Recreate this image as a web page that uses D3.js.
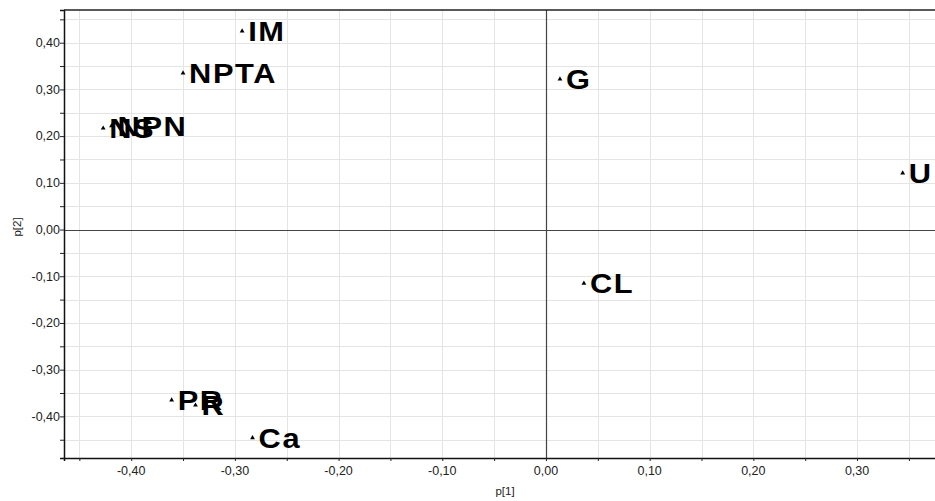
<!DOCTYPE html>
<html>
<head>
<meta charset="utf-8">
<script src="https://cdn.jsdelivr.net/npm/d3@7"></script>
<style>
  html, body { margin: 0; padding: 0; background: #fff; }
  svg { display: block; }
</style>
</head>
<body>
<svg id="chart" width="935" height="501"></svg>
<script>
// Loading plot: p[1] vs p[2]
const labels = ["IM", "NPTA", "NS", "NPN", "G", "U", "CL", "PR", "R", "Ca"];
const p1 = [-0.293, -0.350, -0.427, -0.419, 0.0135, 0.344, 0.0366, -0.361, -0.338, -0.283];
const p2 = [0.425, 0.335, 0.217, 0.222, 0.322, 0.121, -0.115, -0.365, -0.376, -0.446];

const xTickValues = [-0.40, -0.30, -0.20, -0.10, 0.00, 0.10, 0.20, 0.30];
const yTickValues = [-0.40, -0.30, -0.20, -0.10, 0.00, 0.10, 0.20, 0.30, 0.40];
const xTitle = "p[1]";
const yTitle = "p[2]";

const svg = d3.select("#chart");
const plotLeft = 64, plotTop = 10, plotRight = 937, plotBottom = 458;

const x = d3.scaleLinear().domain([-0.4648, 0.3771]).range([plotLeft, plotRight]);
const y = d3.scaleLinear().domain([-0.4891, 0.4700]).range([plotBottom, plotTop]);

const fmt = v => d3.format(".2f")(v).replace("−", "-").replace(".", ",");

// grid every 0.05
const xGrid = d3.range(-0.45, 0.3801, 0.05);
const yGrid = d3.range(-0.45, 0.4601, 0.05);
const grid = svg.append("g");
grid.selectAll("line.vx").data(xGrid).join("line")
  .attr("x1", d => Math.round(x(d)) + 0.5).attr("x2", d => Math.round(x(d)) + 0.5)
  .attr("y1", plotTop).attr("y2", plotBottom)
  .attr("stroke", "#e4e4e4").attr("stroke-width", 1);
grid.selectAll("line.hy").data(yGrid).join("line")
  .attr("y1", d => Math.round(y(d)) + 0.5).attr("y2", d => Math.round(y(d)) + 0.5)
  .attr("x1", plotLeft).attr("x2", plotRight)
  .attr("stroke", "#e4e4e4").attr("stroke-width", 1);

// zero lines
svg.append("line")
  .attr("x1", Math.round(x(0)) + 0.5).attr("x2", Math.round(x(0)) + 0.5)
  .attr("y1", plotTop).attr("y2", plotBottom)
  .attr("stroke", "#444").attr("stroke-width", 1.2);
svg.append("line")
  .attr("y1", Math.round(y(0)) + 0.5).attr("y2", Math.round(y(0)) + 0.5)
  .attr("x1", plotLeft).attr("x2", plotRight)
  .attr("stroke", "#444").attr("stroke-width", 1.2);

// axes
const xAxis = d3.axisBottom(x).tickValues(xGrid).tickSize(3).tickFormat("");
const yAxis = d3.axisLeft(y).tickValues(yGrid).tickSize(4).tickFormat("");
const gx = svg.append("g").attr("transform", `translate(0,${plotBottom})`).call(xAxis);
const gy = svg.append("g").attr("transform", `translate(${plotLeft},0)`).call(yAxis);
[gx, gy].forEach(g => {
  g.select(".domain").attr("stroke", "#111").attr("stroke-width", 1.5);
  g.selectAll(".tick line").attr("stroke", "#222");
});
// top border
svg.append("line").attr("x1", plotLeft).attr("x2", plotRight).attr("y1", plotTop).attr("y2", plotTop)
  .attr("stroke", "#222").attr("stroke-width", 1.5);

// tick labels
svg.append("g").selectAll("text").data(xTickValues).join("text")
  .attr("x", d => x(d)).attr("y", plotBottom + 17)
  .attr("text-anchor", "middle")
  .attr("font-family", "Liberation Sans, Arial, sans-serif").attr("font-size", 12.5)
  .attr("fill", "#222")
  .text(fmt);
svg.append("g").selectAll("text").data(yTickValues).join("text")
  .attr("x", plotLeft - 4).attr("y", d => y(d)).attr("dy", "0.35em")
  .attr("text-anchor", "end")
  .attr("font-family", "Liberation Sans, Arial, sans-serif").attr("font-size", 12.5)
  .attr("fill", "#222")
  .text(fmt);

// axis titles
svg.append("text").attr("x", 505).attr("y", plotBottom + 37)
  .attr("text-anchor", "middle")
  .attr("font-family", "Liberation Sans, Arial, sans-serif").attr("font-size", 11.5)
  .attr("fill", "#222").text(xTitle);
svg.append("text").attr("transform", `translate(21,227) rotate(-90)`)
  .attr("text-anchor", "middle")
  .attr("font-family", "Liberation Sans, Arial, sans-serif").attr("font-size", 11.5)
  .attr("fill", "#222").text(yTitle);

// points and labels (labels slightly widened)
const pts = labels.map((l, i) => ({ label: l, x: p1[i], y: p2[i] }));
const tri = d3.symbol().type(d3.symbolTriangle).size(10);
const g = svg.append("g");
g.selectAll("path").data(pts).join("path")
  .attr("d", tri)
  .attr("transform", d => `translate(${x(d.x)},${y(d.y)})`)
  .attr("fill", "#000");
g.selectAll("text").data(pts).join("text")
  .attr("transform", d => `translate(${x(d.x) + 6},${y(d.y)}) scale(1.1,1)`)
  .attr("dy", "0.36em")
  .attr("font-family", "Liberation Sans, Arial, sans-serif")
  .attr("font-weight", "bold").attr("font-size", 28)
  .attr("letter-spacing", "1.5px")
  .attr("fill", "#000")
  .text(d => d.label);
</script>
</body>
</html>
